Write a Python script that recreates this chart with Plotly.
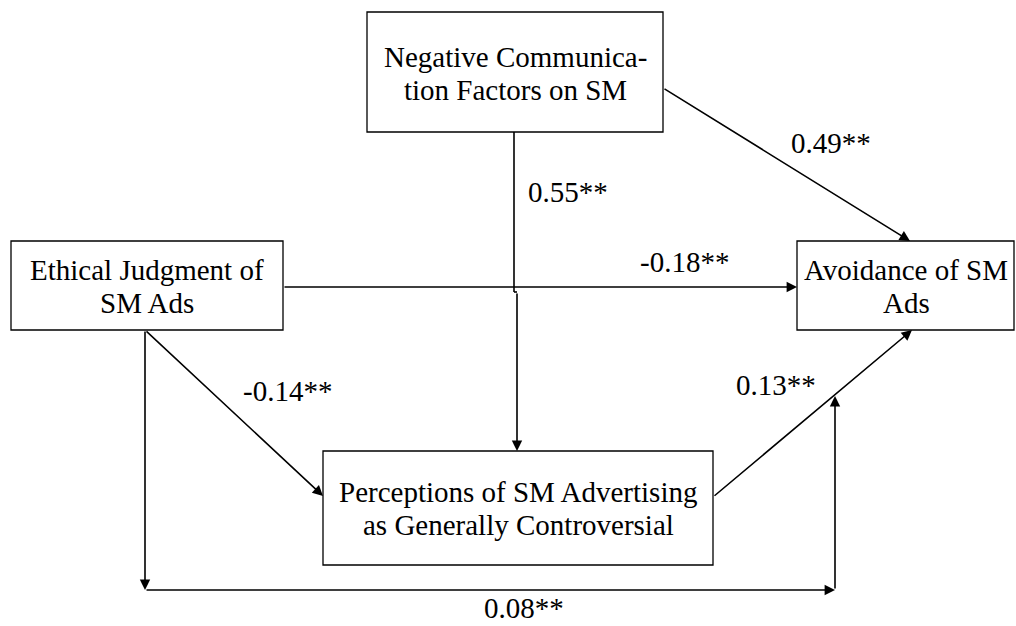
import plotly.graph_objects as go

# ---------------- data ----------------
node_ids = ["neg", "eth", "avo", "per"]
node_lines = [
    ["Negative Communica-", "tion Factors on SM"],
    ["Ethical Judgment of", "SM Ads"],
    ["Avoidance of SM", "Ads"],
    ["Perceptions of SM Advertising", "as Generally Controversial"],
]
path_from = ["neg", "neg", "eth", "eth", "per", "eth"]
path_to = ["avo", "per", "avo", "per", "avo", "avo"]
path_coef = ["0.49**", "0.55**", "-0.18**", "-0.14**", "0.13**", "0.08**"]

# ---------------- layout (pixel space) ----------------
W, H = 1016, 626
FONT = dict(family="Liberation Serif", size=29, color="black")

box_geom = {  # x0, y0, x1, y1
    "neg": (367, 12, 663, 132),
    "eth": (11, 241, 283, 330),
    "avo": (797, 241, 1014, 330),
    "per": (323, 451, 713, 565),
}
text_rows = {  # centre x, line centre ys
    "neg": (515, [57, 90]),
    "eth": (147, [270, 303]),
    "avo": (906, [270, 303]),
    "per": (518, [492, 525]),
}
# routes for each path: list of points
routes = [
    [(663, 88), (910, 241)],
    [(514, 132), (514, 292), (517, 292), (517, 451)],
    [(283, 287), (797, 287)],
    [(145, 330), (323, 496)],
    [(713, 497), (912, 330)],
    [(145, 330), (145, 590), (835, 590), (835, 396)],
]
# segments that end in an arrowhead
arrow_segments = [[0], [2], [0], [0], [0], [0, 1, 2]]
label_pos = [(831, 143), (568, 192), (684, 262), (287, 391), (776, 385), (524, 608)]

fig = go.Figure()
fig.add_trace(go.Scatter(x=[0, W], y=[0, H], mode="markers",
                         marker=dict(opacity=0), hoverinfo="skip", showlegend=False))

shapes = []
annotations = []

for nid, lines in zip(node_ids, node_lines):
    x0, y0, x1, y1 = box_geom[nid]
    shapes.append(dict(type="rect", xref="x", yref="y", x0=x0, y0=y0, x1=x1, y1=y1,
                       line=dict(color="black", width=1.3), fillcolor="white", layer="above"))
    cx, ys = text_rows[nid]
    for line, yy in zip(lines, ys):
        annotations.append(dict(x=cx, y=yy, xref="x", yref="y", text=line, showarrow=False,
                                font=FONT, xanchor="center", yanchor="middle"))

for pts, arr_idx, coef, lp in zip(routes, arrow_segments, path_coef, label_pos):
    for i in range(len(pts) - 1):
        (xa, ya), (xb, yb) = pts[i], pts[i + 1]
        if i in arr_idx:
            annotations.append(dict(x=xb, y=yb, ax=xa, ay=ya, xref="x", yref="y",
                                    axref="x", ayref="y", text="", showarrow=True,
                                    arrowhead=2, arrowsize=1.3, arrowwidth=1.6,
                                    arrowcolor="black"))
        else:
            shapes.append(dict(type="line", xref="x", yref="y", x0=xa, y0=ya, x1=xb, y1=yb,
                               line=dict(color="black", width=1.6)))
    annotations.append(dict(x=lp[0], y=lp[1], xref="x", yref="y", text=coef,
                            showarrow=False, font=FONT, xanchor="center", yanchor="middle"))

fig.update_layout(
    width=W, height=H,
    margin=dict(l=0, r=0, t=0, b=0),
    paper_bgcolor="white", plot_bgcolor="white",
    shapes=shapes, annotations=annotations,
    xaxis=dict(range=[0, W], visible=False, fixedrange=True),
    yaxis=dict(range=[H, 0], visible=False, fixedrange=True),
    showlegend=False,
)
fig.write_html("out.html", config={"displayModeBar": False},
               post_script="document.body.style.margin='0';document.body.style.overflow='hidden';")
